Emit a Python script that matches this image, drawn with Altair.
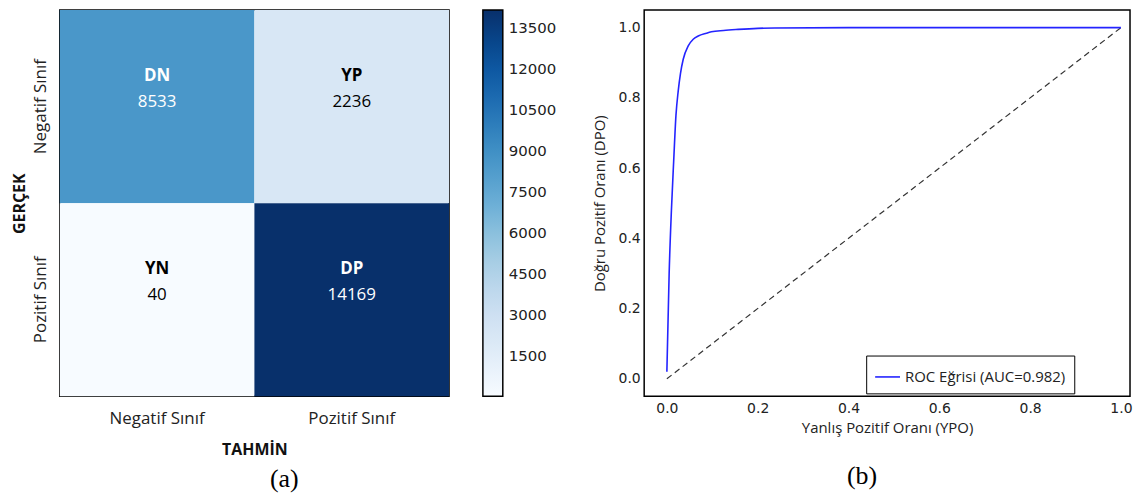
import altair as alt
import numpy as np
import pandas as pd

# ---------------- data: confusion matrix (a) ----------------
class_labels = ["Negatif Sınıf", "Pozitif Sınıf"]
cm_actual = ["Negatif Sınıf", "Negatif Sınıf", "Pozitif Sınıf", "Pozitif Sınıf"]
cm_predicted = ["Negatif Sınıf", "Pozitif Sınıf", "Negatif Sınıf", "Pozitif Sınıf"]
cm_counts = [8533, 2236, 40, 14169]
cm_tags = ["DN", "YP", "YN", "DP"]
cbar_ticks = [1500, 3000, 4500, 6000, 7500, 9000, 10500, 12000, 13500]
blues = ["#f7fbff", "#deebf7", "#c6dbef", "#9ecae1", "#6baed6",
         "#4292c6", "#2171b5", "#08519c", "#08306b"]

# ---------------- data: ROC curve (b) ----------------
roc_fpr = [0.0, 0.005, 0.010, 0.015, 0.020, 0.025, 0.030, 0.036, 0.047,
           0.058, 0.069, 0.087, 0.098, 0.125, 0.157, 0.200, 0.237, 0.400,
           0.600, 0.800, 1.0]
roc_tpr = [0.02, 0.30, 0.48, 0.62, 0.75, 0.82, 0.87, 0.91, 0.948,
           0.967, 0.976, 0.984, 0.988, 0.992, 0.995, 0.998, 0.999, 1.0,
           1.0, 1.0, 1.0]
roc_name = "ROC Eğrisi (AUC=0.982)"
diag_fpr = [0.0, 1.0]
diag_tpr = [0.0, 1.0]
axis_ticks = [0.0, 0.2, 0.4, 0.6, 0.8, 1.0]

HM_W, HM_H = 391, 388
ROC_W = 488

# ---------------- heatmap ----------------
cm_df = pd.DataFrame({"gercek": cm_actual, "tahmin": cm_predicted,
                      "deger": cm_counts, "etiket": cm_tags})
threshold = max(cm_counts) / 2

color_scale = alt.Scale(
    domain=[float(v) for v in np.linspace(min(cm_counts), max(cm_counts), len(blues))],
    range=blues, interpolate="rgb")

band = alt.Scale(paddingInner=0, paddingOuter=0)

base = alt.Chart(cm_df).encode(
    x=alt.X("tahmin:N", sort=class_labels, scale=band,
            axis=alt.Axis(title="TAHMİN", ticks=False, tickSize=0, domain=False,
                          labelAngle=0, labelFont="Open Sans", labelFontSize=17,
                          labelColor="#222", labelPadding=14,
                          titleFont="Open Sans", titleFontSize=16,
                          titleFontWeight="bold", titleColor="#111",
                          titlePadding=15)),
    y=alt.Y("gercek:N", sort=class_labels, scale=band,
            axis=alt.Axis(title="GERÇEK", ticks=False, tickSize=0, domain=False,
                          labelAngle=270, labelAlign="center",
                          labelBaseline="bottom", labelFont="Open Sans",
                          labelFontSize=17, labelColor="#222", labelPadding=10,
                          titleFont="Open Sans", titleFontSize=16,
                          titleFontWeight="bold", titleColor="#111",
                          titlePadding=4)),
)

txt_color = alt.condition(alt.datum.deger > threshold,
                          alt.value("white"), alt.value("black"))

cells = base.mark_rect().encode(
    color=alt.Color("deger:Q", scale=color_scale,
                    legend=alt.Legend(title=None, orient="right", offset=34,
                                      direction="vertical",
                                      gradientLength=HM_H,
                                      gradientThickness=20,
                                      gradientStrokeColor="black",
                                      gradientStrokeWidth=1.5,
                                      values=cbar_ticks, labelOverlap=False,
                                      format="d",
                                      labelFont="DejaVu Sans",
                                      labelFontSize=15, labelColor="#222",
                                      labelOffset=6, padding=0)))

tags = base.mark_text(font="Open Sans", fontSize=17, fontWeight="bold",
                      dy=-31).encode(text="etiket:N", color=txt_color)
nums = base.mark_text(font="Open Sans", fontSize=17, dy=-5).encode(
    text=alt.Text("deger:Q", format="d"), color=txt_color)

heatmap = alt.layer(cells, tags, nums).properties(
    width=HM_W, height=HM_H,
    title=alt.Title("(a)", orient="bottom", anchor="middle", frame="bounds",
                    font="Liberation Serif", fontSize=26,
                    fontWeight="normal", color="black", offset=9))

# ---------------- ROC ----------------
roc_df = pd.DataFrame({"fpr": roc_fpr, "tpr": roc_tpr,
                       "seri": [roc_name] * len(roc_fpr)})
diag_df = pd.DataFrame({"fpr": diag_fpr, "tpr": diag_tpr})

x_enc = alt.X("fpr:Q",
              scale=alt.Scale(domain=[-0.05, 1.02], nice=False, zero=False),
              axis=alt.Axis(title="Yanlış Pozitif Oranı (YPO)",
                            values=axis_ticks, format=".1f", ticks=False,
                            tickSize=0, domain=False, grid=False,
                            labelFlush=False,
                            labelFont="DejaVu Sans", labelFontSize=14,
                            labelColor="#222", labelPadding=5,
                            titleFont="Open Sans", titleFontSize=15,
                            titleFontWeight="normal", titleColor="#222",
                            titlePadding=5))
y_enc = alt.Y("tpr:Q",
              scale=alt.Scale(domain=[-0.05, 1.05], nice=False, zero=False),
              axis=alt.Axis(title="Doğru Pozitif Oranı (DPO)",
                            values=axis_ticks, format=".1f", ticks=False,
                            tickSize=0, domain=False, grid=False,
                            labelFlush=False,
                            labelFont="DejaVu Sans", labelFontSize=14,
                            labelColor="#222", labelPadding=4,
                            titleFont="Open Sans", titleFontSize=15,
                            titleFontWeight="normal", titleColor="#222",
                            titlePadding=11))

diag = alt.Chart(diag_df).mark_line(
    strokeDash=[6, 4], color="#333333", strokeWidth=1.2).encode(x=x_enc, y=y_enc)

curve = alt.Chart(roc_df).mark_line(strokeWidth=1.6, interpolate="monotone").encode(
    x=x_enc, y=y_enc,
    stroke=alt.Stroke("seri:N",
                      scale=alt.Scale(domain=[roc_name], range=["#2424ff"]),
                      legend=alt.Legend(title=None, orient="none",
                                        legendX=223, legendY=347,
                                        fillColor="white", strokeColor="black",
                                        padding=8, symbolType="stroke",
                                        symbolSize=625, symbolStrokeWidth=1.6,
                                        labelFont="Open Sans",
                                        labelFontSize=15, labelColor="#222",
                                        labelLimit=500, labelOffset=4)))

roc = alt.layer(diag, curve).properties(
    width=ROC_W, height=HM_H,
    title=alt.Title("(b)", orient="bottom", anchor="middle", frame="bounds",
                    font="Liberation Serif", fontSize=26,
                    fontWeight="normal", color="black", offset=28))

chart = (
    alt.hconcat(heatmap, roc, spacing=33)
    .resolve_scale(color="independent", stroke="independent")
    .resolve_legend(color="independent", stroke="independent")
    .properties(padding={"left": 3, "top": 0, "right": 0, "bottom": 0},
                background="white")
    .configure_view(stroke="black", strokeWidth=1.5)
)

chart.save("out.html", embed_options={"renderer": "svg", "actions": False})
